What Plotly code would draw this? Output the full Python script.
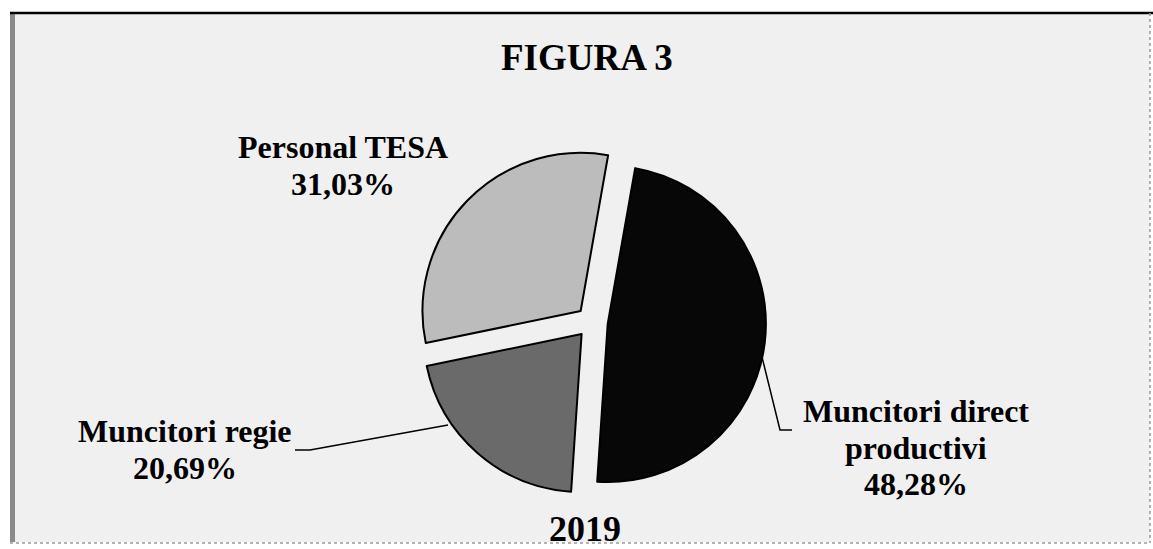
import plotly.graph_objects as go

W, H = 1153, 549

# ---- data ----
categories = ["Muncitori direct productivi", "Muncitori regie", "Personal TESA"]
values = [48.28, 20.69, 31.03]
label_lines = [["Muncitori direct", "productivi"], ["Muncitori regie"], ["Personal TESA"]]
title_text = "FIGURA 3"
year_text = "2019"

colors = ["#070707", "#6a6a6a", "#bcbcbc"]
FONT = "Liberation Serif"


def px(x):
    return x / W


def py(y):
    return 1 - y / H


def fmt(v):
    return f"{v:.2f}".replace(".", ",") + "%"


fig = go.Figure()

fig.add_trace(go.Pie(
    labels=categories,
    values=values,
    sort=False,
    direction="clockwise",
    rotation=10,
    pull=[0.1, 0.1, 0.1],
    marker=dict(colors=colors, line=dict(color="#000000", width=2)),
    textinfo="none",
    hoverinfo="label+percent",
    showlegend=False,
    domain=dict(x=[px(418), px(766)], y=[py(496), py(148)]),
))

shapes = []
# frame background
shapes.append(dict(type="rect", xref="paper", yref="paper",
                   x0=px(10), x1=px(1150), y0=py(542), y1=py(12),
                   fillcolor="#f0f0f0", line=dict(width=0), layer="below"))
# left dark strip
shapes.append(dict(type="rect", xref="paper", yref="paper",
                   x0=px(10), x1=px(15), y0=py(542), y1=py(12),
                   fillcolor="#8a8a8a", line=dict(width=0), layer="below"))
# top solid border
shapes.append(dict(type="line", xref="paper", yref="paper",
                   x0=px(10), x1=px(1153), y0=py(13), y1=py(13),
                   line=dict(color="#000000", width=2.5), layer="below"))
# faint right and bottom borders
shapes.append(dict(type="line", xref="paper", yref="paper",
                   x0=px(1150), x1=px(1150), y0=py(13), y1=py(543),
                   line=dict(color="#9a9a9a", width=1.5, dash="dot"), layer="below"))
shapes.append(dict(type="line", xref="paper", yref="paper",
                   x0=px(10), x1=px(1150), y0=py(543), y1=py(543),
                   line=dict(color="#9a9a9a", width=1.5, dash="dot"), layer="below"))
# leader lines
shapes.append(dict(type="path", xref="paper", yref="paper",
                   path=f"M {px(295)},{py(450)} L {px(310)},{py(450)} L {px(448)},{py(425)}",
                   line=dict(color="#000000", width=1.5)))
shapes.append(dict(type="path", xref="paper", yref="paper",
                   path=f"M {px(762)},{py(357)} L {px(780)},{py(430)} L {px(792)},{py(430)}",
                   line=dict(color="#000000", width=1.5)))

# label positions (centre x, first-line centre y), line spacing
label_pos = [(916, 411), (185, 431), (343, 147)]
LS = 36.5

annotations = []
for lines, val, (cx, cy) in zip(label_lines, values, label_pos):
    all_lines = lines + [fmt(val)]
    for i, t in enumerate(all_lines):
        annotations.append(dict(
            text=f"<b>{t}</b>", xref="paper", yref="paper", x=px(cx), y=py(cy + i * LS),
            xanchor="center", yanchor="middle", showarrow=False,
            font=dict(family=FONT, size=32, color="#000000")))

annotations.append(dict(text=f"<b>{title_text}</b>", xref="paper", yref="paper",
                        x=px(587), y=py(57), xanchor="center", yanchor="middle",
                        showarrow=False, font=dict(family=FONT, size=37, color="#000000")))
annotations.append(dict(text=f"<b>{year_text}</b>", xref="paper", yref="paper",
                        x=px(585), y=py(529), xanchor="center", yanchor="middle",
                        showarrow=False, font=dict(family=FONT, size=36, color="#000000")))

fig.update_layout(
    width=W, height=H,
    margin=dict(l=0, r=0, t=0, b=0),
    paper_bgcolor="#ffffff",
    plot_bgcolor="#ffffff",
    shapes=shapes,
    annotations=annotations,
)

fig.write_html("out.html", config={"displayModeBar": False})

# remove default browser body margin so the figure fills the window exactly
with open("out.html", "r", encoding="utf-8") as f:
    html = f.read()
html = html.replace("<head>", "<head><style>html,body{margin:0;padding:0;overflow:hidden;}</style>", 1)
with open("out.html", "w", encoding="utf-8") as f:
    f.write(html)
